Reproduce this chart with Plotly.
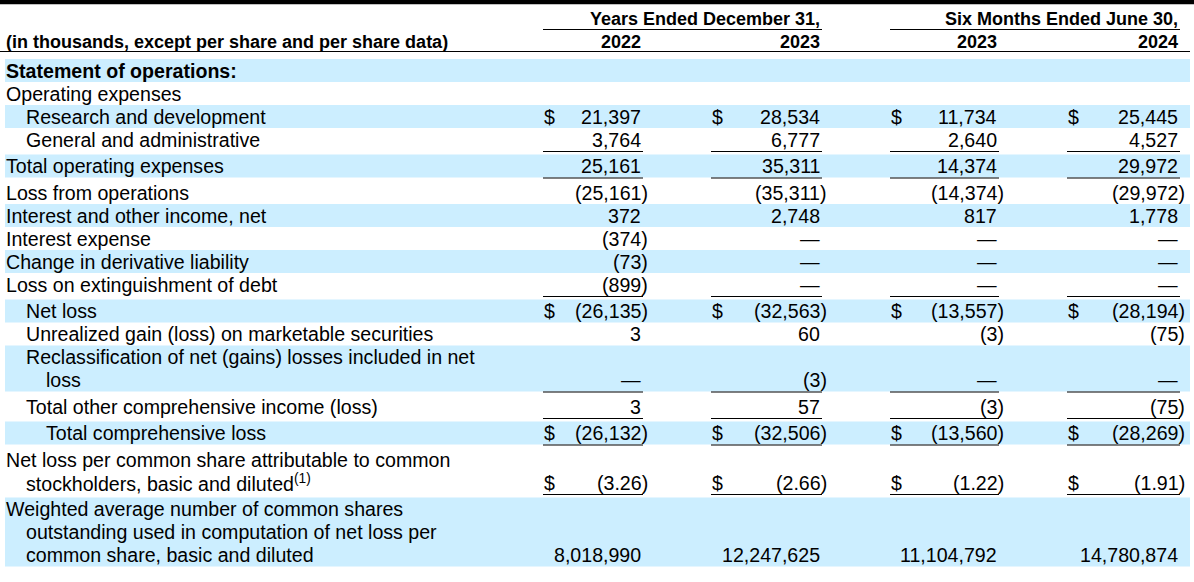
import plotly.graph_objects as go

# table data
group_headers = ["Years Ended December 31,", "Six Months Ended June 30,"]
years = ["2022", "2023", "2023", "2024"]
unit_note = "(in thousands, except per share and per share data)"

row_labels = [
    ["Statement of operations:"],
    ["Operating expenses"],
    ["Research and development"],
    ["General and administrative"],
    ["Total operating expenses"],
    ["Loss from operations"],
    ["Interest and other income, net"],
    ["Interest expense"],
    ["Change in derivative liability"],
    ["Loss on extinguishment of debt"],
    ["Net loss"],
    ["Unrealized gain (loss) on marketable securities"],
    ["Reclassification of net (gains) losses included in net", "loss"],
    ["Total other comprehensive income (loss)"],
    ["Total comprehensive loss"],
    ["Net loss per common share attributable to common",
     "stockholders, basic and diluted<sup>(1)</sup>"],
    ["Weighted average number of common shares",
     "outstanding used in computation of net loss per",
     "common share, basic and diluted"],
]

# None = empty cell, 0 = dash
fy_2022 = [None, None, 21397, 3764, 25161, -25161, 372, -374, -73, -899,
           -26135, 3, 0, 3, -26132, -3.26, 8018990]
fy_2023 = [None, None, 28534, 6777, 35311, -35311, 2748, 0, 0, 0,
           -32563, 60, -3, 57, -32506, -2.66, 12247625]
h1_2023 = [None, None, 11734, 2640, 14374, -14374, 817, 0, 0, 0,
           -13557, -3, 0, -3, -13560, -1.22, 11104792]
h1_2024 = [None, None, 25445, 4527, 29972, -29972, 1778, 0, 0, 0,
           -28194, -75, 0, -75, -28269, -1.91, 14780874]
columns = [fy_2022, fy_2023, h1_2023, h1_2024]

# row styling
dollar_rows = {2, 10, 14, 15}
shaded_rows = {0, 2, 4, 6, 8, 10, 12, 14, 16}
underlined_rows = {3, 4, 9, 12, 13, 14, 15}
bold_rows = {0}
indents = [[0], [0], [1], [1], [0], [0], [0], [0], [0], [0], [1], [1],
           [1, 2], [1], [2], [0, 1], [0, 1, 1]]

# geometry (pixels)
W, H = 1194, 582
col_left = [543, 711, 890, 1067]
col_right = [642, 821, 998, 1179]
indent_x = [5, 25, 45]
line_h = 23
pad_after_rule = 3.5
band_color = "#CCEEFF"
FONT = "Liberation Sans, Arial, sans-serif"
FS = 19.6
FS_HEAD = 18


def fmt(v):
    if v is None:
        return ""
    if v == 0:
        return "\u2014"
    if isinstance(v, float):
        s = f"{abs(v):.2f}"
    else:
        s = f"{abs(v):,}"
    return f"({s})" if v < 0 else s


fig = go.Figure()
shapes = []
annotations = []


def text(x, y, s, anchor="left", bold=False, size=FS):
    annotations.append(dict(
        x=x, y=y, xref="x", yref="y", text=s, showarrow=False,
        xanchor=anchor, yanchor="middle", borderpad=0,
        font=dict(family=FONT, size=size, color="black",
                  weight="bold" if bold else "normal")))


def hline(x0, x1, y, w=1):
    shapes.append(dict(type="line", xref="x", yref="y", x0=x0, x1=x1,
                       y0=y, y1=y, line=dict(color="black", width=w)))


# top black bar
shapes.append(dict(type="rect", xref="x", yref="y", x0=0, x1=W, y0=0, y1=4.3,
                   fillcolor="black", line=dict(width=0)))

# header
text(col_right[1], 18.5, group_headers[0], "right", True, FS_HEAD)
text(col_right[3], 18.5, group_headers[1], "right", True, FS_HEAD)
hline(col_left[0], col_right[1] + 1, 29.5)
hline(col_left[2], col_right[3] + 1, 29.5)
text(indent_x[0], 41.5, unit_note, "left", True, FS_HEAD)
for c, yr in enumerate(years):
    text(col_right[c], 41.5, yr, "right", True, FS_HEAD)
hline(0, 1190, 51.5)

# body
top = 59
for r, lines in enumerate(row_labels):
    n = len(lines)
    h = n * line_h
    if r in shaded_rows:
        shapes.append(dict(type="rect", xref="x", yref="y", x0=5, x1=1190,
                           y0=top, y1=top + h, fillcolor=band_color,
                           line=dict(width=0), layer="below"))
    for i, ln in enumerate(lines):
        text(indent_x[indents[r][i]], top + 11.5 + i * line_h, ln,
             "left", r in bold_rows)
    yv = top + 11.5 + (n - 1) * line_h
    for c, col in enumerate(columns):
        v = col[r]
        if v is None:
            continue
        s = fmt(v)
        if r in dollar_rows:
            text(col_left[c], yv, "$", "left")
        xr = col_right[c] + (6.5 if s.endswith(")") else 0)
        text(xr, yv, s, "right")
        if r in underlined_rows:
            hline(col_left[c], col_right[c] + 1, top + h + 0.5)
    top += h
    if r in underlined_rows:
        top += pad_after_rule

fig.update_layout(
    width=W, height=H,
    margin=dict(l=0, r=0, t=0, b=0),
    paper_bgcolor="white", plot_bgcolor="white",
    xaxis=dict(range=[0, W], visible=False, fixedrange=True),
    yaxis=dict(range=[H, 0], visible=False, fixedrange=True),
    shapes=shapes, annotations=annotations,
    showlegend=False,
)

fig.write_html("out.html", config={"displayModeBar": False},
               post_script="document.body.style.margin='0';"
                           "document.body.style.overflow='hidden';")
